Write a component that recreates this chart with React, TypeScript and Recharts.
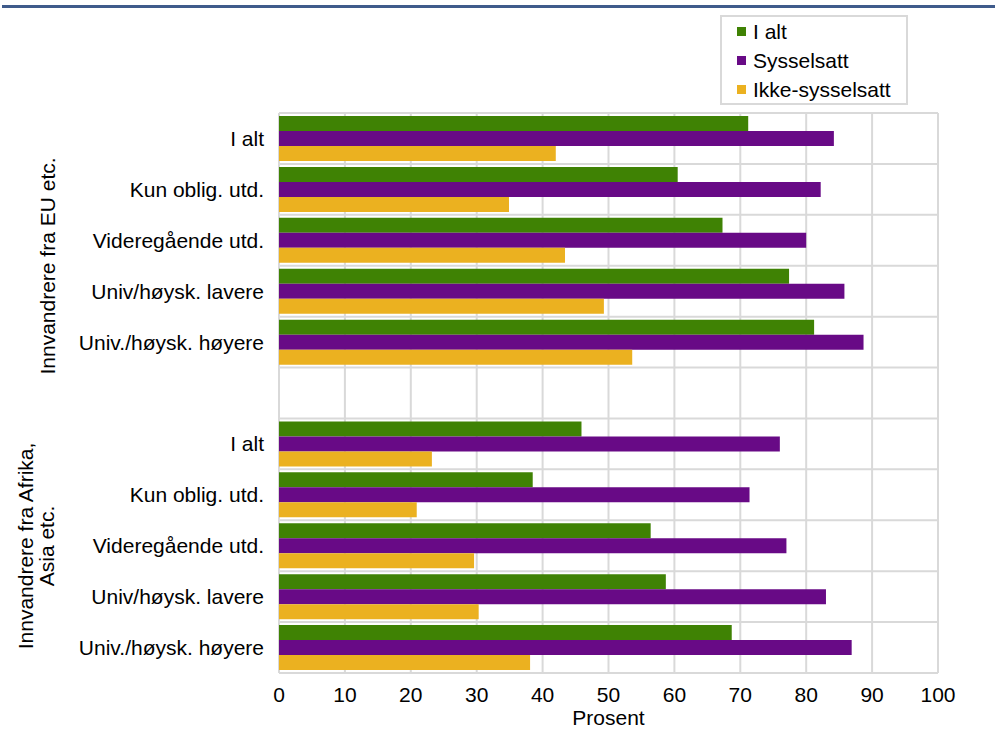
import { BarChart, Bar, XAxis, YAxis, CartesianGrid } from "recharts"

// ---- data ----
const categories = [
  "I alt",
  "Kun oblig. utd.",
  "Videregående utd.",
  "Univ/høysk. lavere",
  "Univ./høysk. høyere",
  "",
  "I alt",
  "Kun oblig. utd.",
  "Videregående utd.",
  "Univ/høysk. lavere",
  "Univ./høysk. høyere",
]
const iAlt = [71.2, 60.5, 67.3, 77.4, 81.2, null, 45.9, 38.5, 56.4, 58.7, 68.7]
const sysselsatt = [84.2, 82.2, 80.0, 85.8, 88.7, null, 76.0, 71.4, 77.0, 83.0, 86.9]
const ikkeSysselsatt = [42.0, 34.9, 43.4, 49.3, 53.6, null, 23.2, 20.9, 29.6, 30.3, 38.1]
const xTicks = [0, 10, 20, 30, 40, 50, 60, 70, 80, 90, 100]

const series = [
  { key: "iAlt", name: "I alt", color: "#3F8204" },
  { key: "sysselsatt", name: "Sysselsatt", color: "#680A86" },
  { key: "ikke", name: "Ikke-sysselsatt", color: "#EBB120" },
]

const data = categories.map((label, i) => ({
  id: `c${i}`,
  label,
  iAlt: iAlt[i],
  sysselsatt: sysselsatt[i],
  ikke: ikkeSysselsatt[i],
}))

const FONT = "'Liberation Sans', Arial, sans-serif"
const FS = 21

// legend drawn as an overlay so it doesn't eat plot space
function LegendBox() {
  return (
    <div
      style={{
        position: "absolute",
        left: 720,
        top: 15,
        width: 188,
        height: 90,
        border: "2px solid #d9d9d9",
        background: "#fff",
        padding: "0 0 0 15px",
        fontFamily: FONT,
        fontSize: FS,
        color: "#000",
        boxSizing: "border-box",
      }}
    >
      {series.map((s) => (
        <div key={s.key} style={{ display: "flex", alignItems: "center", height: 29, lineHeight: "29px" }}>
          <span style={{ width: 9, height: 9, background: s.color, marginRight: 7, display: "inline-block" }} />
          <span>{s.name}</span>
        </div>
      ))}
    </div>
  )
}

export default function App() {
  return (
    <div style={{ position: "absolute", left: 0, top: 0, width: 995, height: 729, background: "#fff" }}>
      <BarChart
        width={995}
        height={729}
        data={data}
        layout="vertical"
        margin={{ top: 113, right: 57, bottom: 0, left: 0 }}
        barCategoryGap={3}
        barGap={0}
      >
        {/* blue rule under the (cropped) title */}
        <rect x={2} y={5} width={993} height={3} fill="#3F5B8B" />

        <CartesianGrid
          stroke="#d9d9d9"
          strokeWidth={2}
          horizontalCoordinatesGenerator={({ offset }: any) =>
            categories.map((_, i) => offset.top + (i * offset.height) / categories.length).concat(offset.top + offset.height)
          }
        />
        <XAxis
          type="number"
          domain={[0, 100]}
          ticks={xTicks}
          interval={0}
          axisLine={false}
          tickLine={false}
          tickSize={0}
          tickMargin={14}
          height={56}
          tick={{ fill: "#000", fontSize: FS, fontFamily: FONT }}
          label={{ value: "Prosent", position: "insideBottom", offset: 4, fill: "#000", fontSize: FS, fontFamily: FONT }}
        />
        <YAxis
          type="category"
          dataKey="id"
          width={279}
          axisLine={false}
          tickLine={false}
          tickSize={0}
          tickMargin={15}
          interval={0}
          tickFormatter={(v: string) => categories[Number(v.slice(1))]}
          tick={{ fill: "#000", fontSize: FS, fontFamily: FONT }}
        />
        {series.map((s) => (
          <Bar key={s.key} dataKey={s.key} name={s.name} fill={s.color} isAnimationActive={false} />
        ))}

        <text
          x={47}
          y={266}
          transform="rotate(-90 47 266)"
          textAnchor="middle"
          dominantBaseline="central"
          fontFamily={FONT}
          fontSize={FS}
          fill="#000"
        >
          Innvandrere fra EU etc.
        </text>
        <text
          x={25}
          y={546}
          transform="rotate(-90 25 546)"
          textAnchor="middle"
          dominantBaseline="central"
          fontFamily={FONT}
          fontSize={FS}
          fill="#000"
        >
          Innvandrere fra Afrika,
        </text>
        <text
          x={46}
          y={546}
          transform="rotate(-90 46 546)"
          textAnchor="middle"
          dominantBaseline="central"
          fontFamily={FONT}
          fontSize={FS}
          fill="#000"
        >
          Asia etc.
        </text>
      </BarChart>
      <LegendBox />
    </div>
  )
}
